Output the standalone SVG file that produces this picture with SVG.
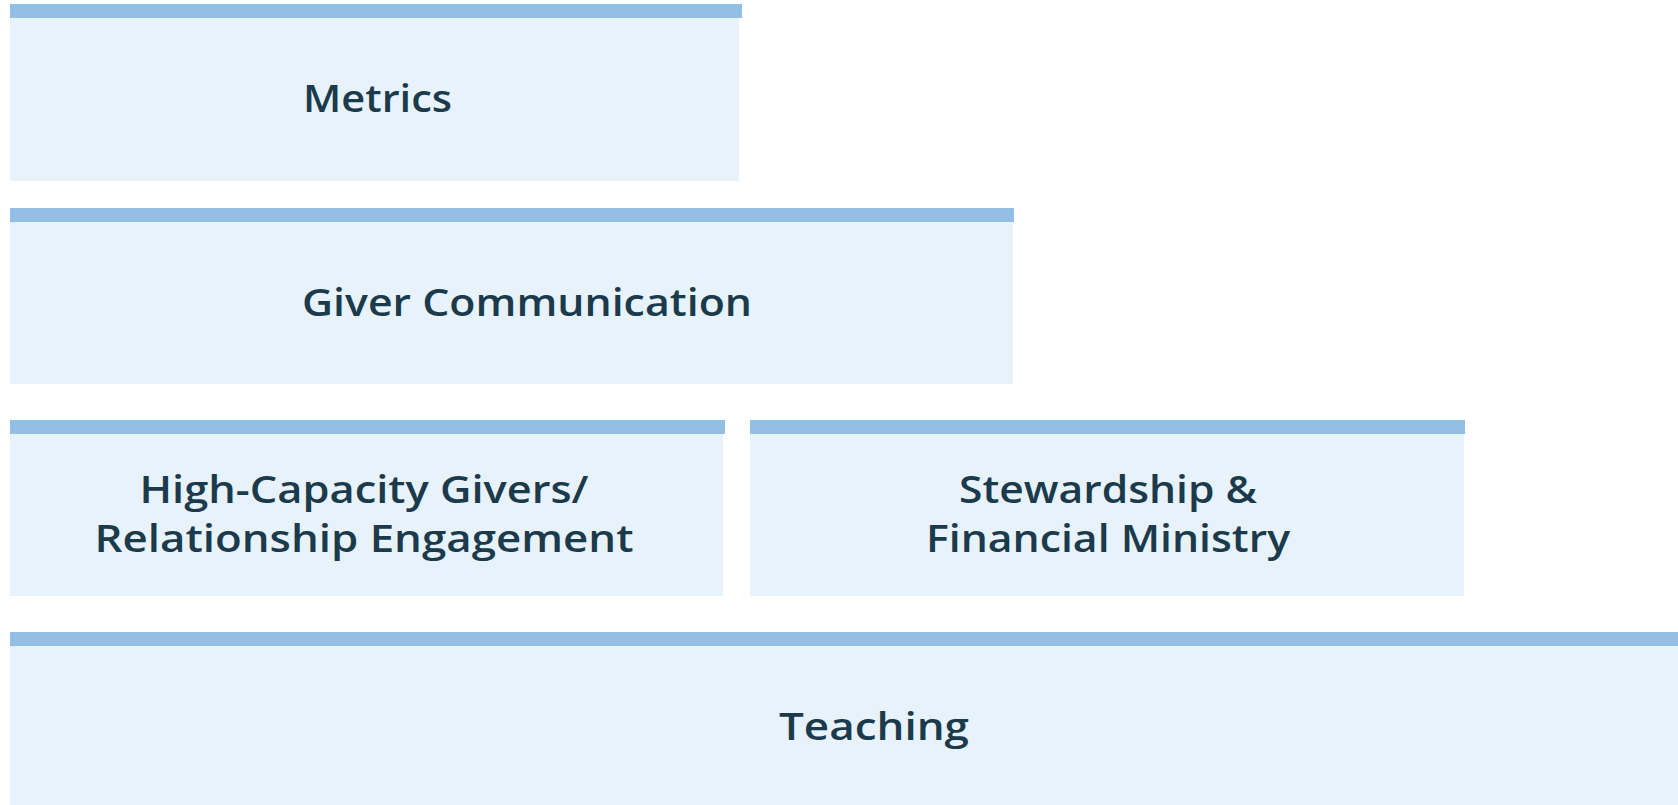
<svg xmlns="http://www.w3.org/2000/svg" width="1678" height="805" viewBox="0 0 1678 805">
  <style>
    .bar { fill: #93BFE4; }
    .body { fill: #E8F2FA; }
    .lbl { font-family: "Open Sans", "Liberation Sans", sans-serif; font-weight: 600; font-size: 38px; fill: #1B3A4B; text-anchor: middle; }
  </style>
  <rect x="0" y="0" width="1678" height="805" fill="#FFFFFF"/>
  <g id="metrics">
    <rect class="body" x="10" y="18" width="729" height="163"/>
    <rect class="bar" x="10" y="4" width="732" height="14"/>
    <text class="lbl" x="377.5" y="111.5" textLength="149" lengthAdjust="spacingAndGlyphs">Metrics</text>
  </g>
  <g id="giver-communication">
    <rect class="body" x="10" y="222" width="1003" height="162"/>
    <rect class="bar" x="10" y="208" width="1004" height="14"/>
    <text class="lbl" x="527" y="315.5" textLength="450" lengthAdjust="spacingAndGlyphs">Giver Communication</text>
  </g>
  <g id="high-capacity-givers">
    <rect class="body" x="10" y="434" width="713" height="162"/>
    <rect class="bar" x="10" y="420" width="715" height="14"/>
    <text class="lbl" x="364" y="502.5" textLength="449" lengthAdjust="spacingAndGlyphs">High-Capacity Givers/</text>
    <text class="lbl" x="364" y="551.5" textLength="539" lengthAdjust="spacingAndGlyphs">Relationship Engagement</text>
  </g>
  <g id="stewardship">
    <rect class="body" x="750" y="434" width="714" height="162"/>
    <rect class="bar" x="750" y="420" width="715" height="14"/>
    <text class="lbl" x="1108" y="502.5" textLength="298" lengthAdjust="spacingAndGlyphs">Stewardship &amp;</text>
    <text class="lbl" x="1108" y="551.5" textLength="364" lengthAdjust="spacingAndGlyphs">Financial Ministry</text>
  </g>
  <g id="teaching">
    <rect class="body" x="10" y="646" width="1668" height="159"/>
    <rect class="bar" x="10" y="632" width="1668" height="14"/>
    <text class="lbl" x="874" y="740" textLength="190" lengthAdjust="spacingAndGlyphs">Teaching</text>
  </g>
  <g id="connectors"/>
</svg>
